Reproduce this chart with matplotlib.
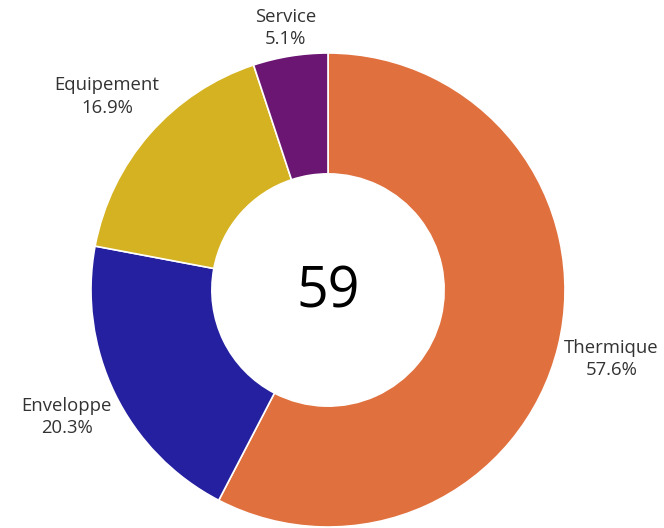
import matplotlib
matplotlib.use("Agg")
import matplotlib.pyplot as plt
import numpy as np

plt.rcParams["font.family"] = ["Open Sans", "DejaVu Sans"]

# donnees
categories = ["Thermique", "Enveloppe", "Equipement", "Service"]
counts = [34, 12, 10, 3]
colors = ["#e0713e", "#2520a0", "#d5b221", "#6a1672"]

W, H = 664, 528
CX, CY, R = 328, 238, 237   # centre / rayon en pixels
HOLE = 0.49
INK = "#333333"

fig = plt.figure(figsize=(W / 100, H / 100), dpi=100)
ax = fig.add_axes([0, 0, 1, 1])

wedges, _ = ax.pie(counts, colors=colors, startangle=90, counterclock=False,
                   center=(CX, CY), radius=R, frame=True,
                   wedgeprops=dict(width=R * (1 - HOLE), edgecolor="white", linewidth=1.2))
ax.set_xlim(0, W); ax.set_ylim(0, H)
ax.set_aspect("equal"); ax.axis("off")

total = sum(counts)
ax.text(CX, CY - 3, f"{total}", ha="center", va="center", fontsize=40, color="black")

fig.canvas.draw()
renderer = fig.canvas.get_renderer()
gap = 4
for w, name, n in zip(wedges, categories, counts):
    ang = np.deg2rad((w.theta1 + w.theta2) / 2)
    t = ax.text(0, 0, f"{name}\n{100 * n / total:.1f}%", ha="center", va="center",
                fontsize=13.3, color=INK, linespacing=1.3)
    bb = t.get_window_extent(renderer)
    hw, hh = bb.width / 2, bb.height / 2
    rc = R + gap + abs(np.cos(ang)) * hw + abs(np.sin(ang)) * hh
    t.set_position((CX + rc * np.cos(ang), CY + rc * np.sin(ang)))

fig.savefig("out.png", dpi=100)
